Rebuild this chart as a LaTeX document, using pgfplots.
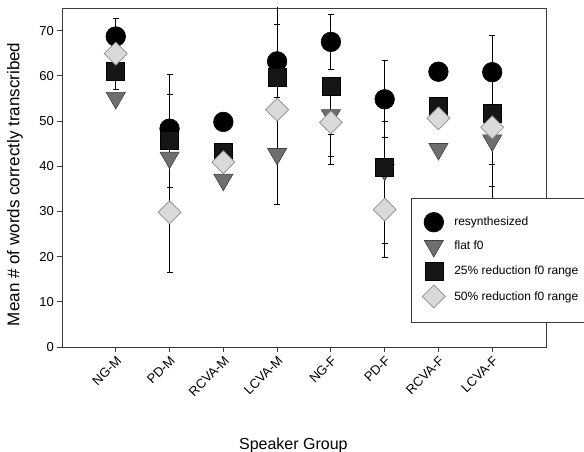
\documentclass[border=0pt]{standalone}
\usepackage{pgfplots}
\pgfplotsset{compat=1.18}
\usepackage{pgfplotstable}
\usepackage{fontspec}
\setmainfont{Liberation Sans}

\definecolor{triFill}{HTML}{6E6E6E}
\definecolor{triEdge}{HTML}{404040}
\definecolor{sqFill}{HTML}{161616}
\definecolor{diaFill}{HTML}{DADADA}
\definecolor{diaEdge}{HTML}{8C8C8C}
\definecolor{frame}{HTML}{3C3C3C}

% group index, mean, upper and lower whisker lengths
\pgfplotstableread{
x y ep em
1 68.7 3.9 3.9
2 48.3 12.0 0
3 49.8 0 0
4 63.2 8.1 8.1
5 67.5 6.1 6.1
6 54.8 8.5 8.5
7 60.9 0 0
8 60.8 8.1 8.1
}\resynth

\pgfplotstableread{
x y ep em
1 55.1 0 0
2 41.9 0 0
3 37.0 0 0
4 42.7 11.1 11.1
5 51.3 0 4.3
6 39.2 0 19.3
7 43.8 0 0
8 45.7 0 10.2
}\flat

\pgfplotstableread{
x y ep em
1 61.1 0 4.1
2 45.7 10.2 10.4
3 43.0 0 0
4 59.6 16.0 16.0
5 57.6 0 17.2
6 39.7 10.2 0
7 53.2 0 0
8 51.7 0 20.0
}\redA

\pgfplotstableread{
x y ep em
1 64.9 0 0
2 29.8 13.3 13.3
3 40.9 0 0
4 52.5 0 0
5 49.7 7.5 7.5
6 30.4 7.4 7.4
7 50.6 0 0
8 48.6 0 8.2
}\redB

\pgfplotsset{
  mylegimg/.style={legend image code/.code={%
    \path[draw=none, fill=none] (0pt,-9pt) rectangle (22pt,9pt);
    \draw[##1] plot coordinates {(11pt,0pt)};}},
  whisker/.style={forget plot, only marks, mark=none,
    error bars/.cd, y dir=both, y explicit,
    error bar style={black, line width=0.9pt},
    error mark=-,
    error mark options={rotate=90, black, line width=0.9pt, mark size=3pt}},
}

\begin{document}
\begin{tikzpicture}
\useasboundingbox (-62pt,-105pt) rectangle (522pt,347pt);
\begin{axis}[
  at={(0pt,0pt)}, anchor=south west,
  scale only axis, width=484pt, height=339pt,
  xmin=0, xmax=9, ymin=0, ymax=75,
  xtick={1,...,8},
  xticklabels={NG-M,PD-M,RCVA-M,LCVA-M,NG-F,PD-F,RCVA-F,LCVA-F},
  ytick={0,10,...,70},
  xtick pos=left, ytick pos=left,
  tick align=outside, major tick length=5pt,
  tick style={frame, line width=0.8pt},
  axis line style={frame, line width=0.8pt},
  /pgf/number format/assume math mode=true,
  ticklabel style={font=\fontsize{13}{15}\selectfont},
  xticklabel style={rotate=45, anchor=north east, inner sep=2pt},
  yticklabel style={inner sep=3pt},
  xlabel={Speaker Group},
  ylabel={Mean \# of words correctly transcribed},
  every axis x label/.style={at={(axis description cs:0.478,-0.29)}, anchor=center, font=\fontsize{16}{18}\selectfont},
  every axis y label/.style={at={(axis description cs:-0.097,0.48)}, rotate=90, anchor=center, font=\fontsize{17}{19}\selectfont},
  legend cell align=left,
  legend style={at={(axis description cs:0.721,0.4395)}, anchor=north west,
    draw=frame, line width=0.8pt, fill=white,
    inner xsep=11pt, inner ysep=14pt, row sep=5pt,
    font=\fontsize{12}{14}\selectfont,
    /tikz/every odd column/.append style={column sep=7pt}},
]
% whiskers first, so the symbols sit on top of them
\addplot[whisker] table[x=x, y=y, y error plus=ep, y error minus=em]{\resynth};
\addplot[whisker] table[x=x, y=y, y error plus=ep, y error minus=em]{\flat};
\addplot[whisker] table[x=x, y=y, y error plus=ep, y error minus=em]{\redA};
\addplot[whisker] table[x=x, y=y, y error plus=ep, y error minus=em]{\redB};

\addplot[only marks, mylegimg, mark=*, mark size=9.8pt,
  mark options={fill=black, draw=black, line width=0.6pt}]
  table[x=x, y=y]{\resynth};
\addlegendentry{resynthesized}
\addplot[only marks, mylegimg, mark=triangle*, mark size=11pt,
  mark options={rotate=180, fill=triFill, draw=triEdge, line width=0.6pt}]
  table[x=x, y=y]{\flat};
\addlegendentry{flat f0}
\addplot[only marks, mylegimg, mark=square*, mark size=9pt,
  mark options={fill=sqFill, draw=black, line width=0.6pt}]
  table[x=x, y=y]{\redA};
\addlegendentry{25\% reduction f0 range}
\addplot[only marks, mylegimg, mark=square*, mark size=8.1pt,
  mark options={rotate=45, fill=diaFill, draw=diaEdge, line width=0.7pt}]
  table[x=x, y=y]{\redB};
\addlegendentry{50\% reduction f0 range}
\end{axis}
\end{tikzpicture}
\end{document}
